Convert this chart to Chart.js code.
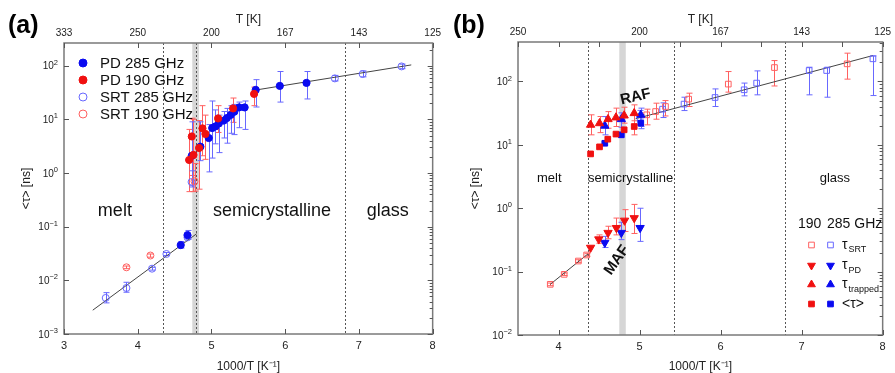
<!DOCTYPE html>
<html>
<head>
<meta charset="utf-8">
<script src="https://cdn.jsdelivr.net/npm/chart.js@4.4.0/dist/chart.umd.min.js"></script>
<style>
  body { margin: 0; background: #fff; }
  #wrap { position: relative; width: 895px; height: 373px; }
  canvas { position: absolute; top: 0; }
  #ca { left: 0; }
  #cb { left: 445px; }
</style>
</head>
<body>
<div id="wrap">
  <canvas id="ca" width="445" height="373"></canvas>
  <canvas id="cb" width="450" height="373"></canvas>
</div>
<script>
const FONT = 'Liberation Sans, Arial, Helvetica, sans-serif';
const BLUE = '#0a0af0', RED = '#f01010';
const BLUE_L = '#6868ff', RED_L = '#ff6060';

// ---------- panel (a) ----------
const aTopVals = [3, 4, 5, 6, 7, 8];
const aTopLabels = ['333', '250', '200', '167', '143', '125'];
const aDashX = [4.34, 4.79, 6.81];
const aBand = [4.74, 4.83];

const aPd285X = [4.583, 4.675, 4.733, 4.85, 4.963, 5.01, 5.054, 5.10, 5.167, 5.21, 5.26, 5.31, 5.375, 5.45, 5.60, 5.927, 6.289];
const aPd285Y = [0.0454, 0.0697, 2.1, 3.1, 4.5, 6.9, 7.4, 8.4, 9.5, 10.6, 12.1, 13.9, 16.7, 16.7, 35.4, 42, 47.8];
const aPd285Lo = [0.040, 0.060, 0.55, 1.7, 1.05, 1.9, 3.5, 2.4, 4.5, 3.6, 5.5, 5.2, 7, 6.5, 17, 21, 24];
const aPd285Hi = [0.053, 0.085, 9, 9, 8, 22, 15, 12, 14, 16, 18, 19, 21, 22, 55, 78, 78];

const aPd190X = [4.697, 4.733, 4.756, 4.832, 4.878, 4.918, 5.09, 5.293, 5.578];
const aPd190Y = [1.75, 4.8, 2.17, 2.93, 6.8, 5.35, 10.4, 16, 29.8];
const aPd190Lo = [0.45, 0.9, 0.45, 0.5, 2.1, 1.8, 5.7, 8.8, 18];
const aPd190Hi = [6.5, 10.5, 10, 9.5, 18, 12, 18, 25, 40];

const aSrt285X = [3.566, 3.847, 4.194, 4.389, 4.675, 4.73, 6.673, 7.05, 7.578];
const aSrt285Y = [0.0047, 0.0072, 0.0165, 0.031, 0.063, 0.68, 58, 70, 97];
const aSrt285Lo = [0.0038, 0.006, 0.0155, 0.029, 0.058, 0.6, 52, 62, 88];
const aSrt285Hi = [0.0059, 0.0092, 0.0175, 0.033, 0.068, 1.1, 66, 80, 107];

const aSrt190X = [3.847, 4.172, 4.77];
const aSrt190Y = [0.0175, 0.029, 0.7];
const aSrt190Lo = [0.0165, 0.027, 0.46];
const aSrt190Hi = [0.0185, 0.031, 1.5];

const aFitLowX = [3.39, 4.80], aFitLowY = [0.00278, 0.074];
const aFitHighX = [5.61, 7.71], aFitHighY = [35.4, 103.5];

// ---------- panel (b) ----------
const bTopVals = [3.5, 4, 4.5, 5, 5.5, 6, 6.5, 7, 7.5, 8];
const bTopLabels = ['250', '', '', '200', '', '167', '', '143', '', '125'];
const bDashX = [4.363, 5.43, 6.80];
const bBand = [4.75, 4.83];

const bSrt190X = [3.898, 4.07, 4.245, 4.347, 5.088, 5.198, 5.32, 5.606, 6.095, 6.665, 7.562];
const bSrt190Y = [0.063, 0.0906, 0.147, 0.183, 29.8, 33.6, 40.3, 52.7, 91, 166, 190];
const bSrt190Lo = [0.06, 0.087, 0.14, 0.175, 20.7, 25.4, 28.6, 40.3, 68, 85, 109];
const bSrt190Hi = [0.066, 0.095, 0.154, 0.192, 36.6, 45.5, 50, 65.4, 143.6, 214, 280];

const bSrt285X = [5.007, 5.284, 5.549, 5.932, 6.291, 6.445, 7.093, 7.309, 7.88];
const bSrt285Y = [26.4, 36.6, 44, 55.9, 74, 94.4, 149, 149, 228];
const bSrt285Lo = [21, 27, 34.8, 40.3, 59.4, 61.6, 61.6, 56.5, 60];
const bSrt285Hi = [35, 46, 56.5, 76.4, 94.4, 147, 168, 168, 254];

const bPd190X = [4.396, 4.497, 4.611, 4.714, 4.815, 4.934];
const bPd190Y = [0.239, 0.324, 0.41, 0.49, 0.64, 0.70];
const bPd190Lo = [null, 0.28, 0.33, 0.38, 0.43, 0.4];
const bPd190Hi = [null, 0.38, 0.52, 0.7, 0.95, 1.15];

const bPd285X = [4.571, 4.775, 5.007];
const bPd285Y = [0.286, 0.41, 0.49];
const bPd285Lo = [0.24, 0.32, 0.30];
const bPd285Hi = [0.36, 0.6, 1.0];

const bTrap190X = [4.396, 4.506, 4.611, 4.709, 4.81, 4.934];
const bTrap190Y = [20.7, 21.9, 25.4, 27, 29, 31.6];
const bTrap190Lo = [14.4, 15.6, 18.3, 19.5, 22, 24];
const bTrap190Hi = [29.8, 28, 33.5, 38, 39.3, 42.8];

const bTrap285X = [4.571, 4.775, 5.015];
const bTrap285Y = [20, 25.4, 29.8];
const bTrap285Lo = [14.4, 19, 19.5];
const bTrap285Hi = [28, 32, 38];

const bMean190X = [4.396, 4.506, 4.608, 4.709, 4.81, 4.934];
const bMean190Y = [7.2, 9.3, 12.3, 14.8, 17.3, 19.5];
const bMean190Lo = [null, null, null, null, null, 14.4];
const bMean190Hi = [null, null, null, null, null, 29.8];

const bMean285X = [4.571, 4.775, 5.015];
const bMean285Y = [10.6, 14.4, 22];
const bMean285Lo = [null, null, 18];
const bMean285Hi = [null, null, 30];

const bFitLowX = [3.898, 4.363], bFitLowY = [0.063, 0.19];
const bFitHighX = [4.95, 7.88], bFitHighY = [25.8, 257];

const pts = (xs, ys) => xs.map((x, i) => ({ x, y: ys[i] }));

function series(xs, ys, lo, hi, o) {
    return Object.assign({
        data: pts(xs, ys), showLine: false, errLo: lo, errHi: hi,
        pointBorderWidth: 1, pointHoverRadius: 0
    }, o);
}
function fitLine(xs, ys) {
    return { data: pts(xs, ys), showLine: true, borderColor: '#444', borderWidth: 1, pointRadius: 0, pointHoverRadius: 0 };
}

function sup(ctx, x, y, base, exp, fb, fe, align) {
    // draws base + superscript, right aligned at x
    ctx.font = fe;
    const we = ctx.measureText(exp).width;
    ctx.font = fb;
    const wb = ctx.measureText(base).width;
    const x0 = align === 'right' ? x - we - wb : x;
    ctx.textAlign = 'left';
    ctx.textBaseline = 'middle';
    ctx.fillText(base, x0, y);
    ctx.font = fe;
    ctx.fillText(exp, x0 + wb, y - 4);
}

function makeExtras(cfg) {
    return {
        id: 'extras' + cfg.name,
        beforeDatasetsDraw(chart) {
            const { ctx, chartArea: a, scales: { x, y } } = chart;
            ctx.save();
            const b0 = x.getPixelForValue(cfg.band[0]), b1 = x.getPixelForValue(cfg.band[1]);
            ctx.fillStyle = '#d6d6d6';
            ctx.fillRect(b0, a.top, b1 - b0, a.bottom - a.top);
            ctx.strokeStyle = '#555';
            ctx.lineWidth = 1;
            ctx.setLineDash([2, 2]);
            cfg.dashes.forEach(v => {
                const px = Math.round(x.getPixelForValue(v)) + 0.5;
                ctx.beginPath(); ctx.moveTo(px, a.top); ctx.lineTo(px, a.bottom); ctx.stroke();
            });
            ctx.setLineDash([]);
            // error bars
            chart.data.datasets.forEach((ds, i) => {
                if (!ds.errLo) return;
                const meta = chart.getDatasetMeta(i);
                ctx.strokeStyle = ds.errColor;
                ctx.lineWidth = ds.errWidth || 1;
                meta.data.forEach((pt, j) => {
                    const lo = ds.errLo[j], hi = ds.errHi[j];
                    if (lo == null) return;
                    const px = Math.round(pt.x) + 0.5;
                    const yl = y.getPixelForValue(lo), yh = y.getPixelForValue(hi);
                    ctx.beginPath();
                    ctx.moveTo(px, yl); ctx.lineTo(px, yh);
                    ctx.moveTo(px - 3, yl); ctx.lineTo(px + 3, yl);
                    ctx.moveTo(px - 3, yh); ctx.lineTo(px + 3, yh);
                    ctx.stroke();
                });
            });
            ctx.restore();
        },
        afterDraw(chart) {
            const { ctx, chartArea: a, scales: { x, x2, y } } = chart;
            ctx.save();
            ctx.strokeStyle = '#7a7a7a';
            ctx.lineWidth = 1.5;
            ctx.strokeRect(a.left, a.top, a.right - a.left, a.bottom - a.top);

            ctx.strokeStyle = '#555';
            ctx.lineWidth = 1;
            ctx.beginPath();
            x.ticks.forEach(t => {
                const px = Math.round(x.getPixelForValue(t.value)) + 0.5;
                ctx.moveTo(px, a.bottom); ctx.lineTo(px, a.bottom - 5);
            });
            x2.ticks.forEach(t => {
                const px = Math.round(x2.getPixelForValue(t.value)) + 0.5;
                ctx.moveTo(px, a.top); ctx.lineTo(px, a.top + 5);
            });
            y.ticks.forEach(t => {
                const py = Math.round(y.getPixelForValue(t.value)) + 0.5;
                ctx.moveTo(a.left, py); ctx.lineTo(a.left + 5, py);
                ctx.moveTo(a.right, py); ctx.lineTo(a.right - 5, py);
            });
            for (let e = Math.floor(Math.log10(y.min)); e <= Math.ceil(Math.log10(y.max)); e++) {
                for (let k = 2; k <= 9; k++) {
                    const v = k * Math.pow(10, e);
                    if (v <= y.min || v >= y.max) continue;
                    const py = Math.round(y.getPixelForValue(v)) + 0.5;
                    ctx.moveTo(a.right, py); ctx.lineTo(a.right - 3, py);
                }
            }
            ctx.stroke();

            // y tick labels
            ctx.fillStyle = '#222';
            y.ticks.forEach(t => {
                const e = Math.round(Math.log10(t.value));
                sup(ctx, a.left - 6, y.getPixelForValue(t.value) + 1, '10', String(e).replace('-', '\u2212'),
                    '10px ' + FONT, '7.5px ' + FONT, 'right');
            });

            // texts
            ctx.fillStyle = '#111';
            cfg.texts.forEach(t => {
                ctx.save();
                ctx.translate(x.getPixelForValue(t.x), y.getPixelForValue(t.y));
                ctx.rotate((t.rot || 0) * Math.PI / 180);
                ctx.font = t.font;
                ctx.textAlign = 'center';
                ctx.textBaseline = 'middle';
                ctx.fillText(t.text, 0, 0);
                ctx.restore();
            });

            // panel label
            ctx.font = 'bold 25px ' + FONT;
            ctx.textAlign = 'left';
            ctx.textBaseline = 'alphabetic';
            ctx.fillStyle = '#000';
            ctx.fillText(cfg.label, 8, 33);

            cfg.legend(ctx, a);
            ctx.restore();
        }
    };
}

function marker(ctx, style, x, y, r, fill, stroke, rot) {
    ctx.fillStyle = fill;
    ctx.strokeStyle = stroke;
    ctx.lineWidth = 1;
    Chart.helpers.drawPoint(ctx, { pointStyle: style, radius: r, rotation: rot || 0, borderWidth: 1 }, x, y);
}

const legendA = (ctx, a) => {
    const items = [
        ['PD 285 GHz', BLUE, BLUE],
        ['PD 190 GHz', RED, RED],
        ['SRT 285 GHz', 'rgba(255,255,255,0)', BLUE_L],
        ['SRT 190 GHz', 'rgba(255,255,255,0)', RED_L]
    ];
    items.forEach((it, i) => {
        const yy = 63 + i * 17;
        marker(ctx, 'circle', 83, yy, 4, it[1], it[2]);
        ctx.fillStyle = '#111';
        ctx.font = '15px ' + FONT;
        ctx.textAlign = 'left';
        ctx.textBaseline = 'middle';
        ctx.fillText(it[0], 100, yy + 1);
    });
};

const legendB = (ctx, a) => {
    ctx.fillStyle = '#111';
    ctx.font = '14px ' + FONT;
    ctx.textAlign = 'left';
    ctx.textBaseline = 'middle';
    ctx.fillText('190', 353, 224);
    ctx.fillText('285 GHz', 382, 224);
    const none = 'rgba(255,255,255,0)';
    const rows = [
        ['rect', none, RED_L, none, BLUE_L, 0, '\u03c4', 'SRT', 245],
        ['triangle', RED, RED, BLUE, BLUE, 180, '\u03c4', 'PD', 265.5],
        ['triangle', RED, RED, BLUE, BLUE, 0, '\u03c4', 'trapped', 284.5],
        ['rect', RED, RED, BLUE, BLUE, 0, '<\u03c4>', '', 304]
    ];
    rows.forEach(r => {
        const rad = r[0] === 'rect' ? 4 : 4.5;
        marker(ctx, r[0], 366.5, r[8], rad, r[1], r[2], r[5]);
        marker(ctx, r[0], 385.5, r[8], rad, r[3], r[4], r[5]);
        ctx.fillStyle = '#111';
        ctx.font = '14px ' + FONT;
        ctx.textBaseline = 'middle';
        ctx.fillText(r[6], 397, r[8]);
        const w = ctx.measureText(r[6]).width;
        ctx.font = '9px ' + FONT;
        ctx.fillText(r[7], 397 + w + 1, r[8] + 5);
    });
};

function axesConfig(o) {
    const titleFont = { family: FONT, size: 12, lineHeight: 1 };
    return {
        x: {
            type: 'linear', position: 'bottom', min: o.xmin, max: 8,
            afterBuildTicks: s => { s.ticks = o.bottomVals.map(v => ({ value: v })); },
            ticks: { font: { family: FONT, size: 11 }, color: '#222', padding: 5, callback: v => String(v) },
            grid: { display: false, drawTicks: false }, border: { display: false },
            title: { display: true, text: '1000/T [K\u207b\u00b9]', font: titleFont, color: '#222', padding: { bottom: 0 } },
            afterFit: s => { s.height = o.bottomH; }
        },
        x2: {
            type: 'linear', position: 'top', min: o.xmin, max: 8,
            afterBuildTicks: s => { s.ticks = o.topVals.map(v => ({ value: v })); },
            ticks: { font: { family: FONT, size: 10 }, color: '#222', padding: 4, callback: (v, i) => o.topLabels[i] },
            grid: { display: false, drawTicks: false }, border: { display: false },
            title: { display: true, text: 'T [K]', font: titleFont, color: '#222', padding: { top: 14 } },
            afterFit: s => { s.height = o.topH; }
        },
        y: {
            type: 'logarithmic', position: 'left', min: o.ymin, max: o.ymax,
            afterBuildTicks: s => { s.ticks = o.decades.map(v => ({ value: v })); },
            ticks: { display: false },
            grid: { display: false, drawTicks: false }, border: { display: false },
            title: { display: true, text: '<\u03c4> [ns]', font: titleFont, color: '#222', padding: { top: o.ytPad } },
            afterFit: s => { s.width = o.leftW; }
        }
    };
}

new Chart(document.getElementById('ca'), {
    type: 'scatter',
    data: {
        datasets: [
            series(aPd190X, aPd190Y, aPd190Lo, aPd190Hi, { pointStyle: 'circle', pointRadius: 3.6, pointBackgroundColor: RED, pointBorderColor: RED, errColor: RED_L }),
            series(aPd285X, aPd285Y, aPd285Lo, aPd285Hi, { pointStyle: 'circle', pointRadius: 3.6, pointBackgroundColor: BLUE, pointBorderColor: BLUE, errColor: BLUE_L }),
            series(aSrt190X, aSrt190Y, aSrt190Lo, aSrt190Hi, { pointStyle: 'circle', pointRadius: 3.5, pointBackgroundColor: 'rgba(255,255,255,0)', pointBorderColor: RED_L, errColor: RED_L }),
            series(aSrt285X, aSrt285Y, aSrt285Lo, aSrt285Hi, { pointStyle: 'circle', pointRadius: 3.5, pointBackgroundColor: 'rgba(255,255,255,0)', pointBorderColor: BLUE_L, errColor: BLUE_L }),
            fitLine(aFitLowX, aFitLowY),
            fitLine(aFitHighX, aFitHighY)
        ]
    },
    options: {
        responsive: false, animation: false, devicePixelRatio: 1,
        layout: { padding: { left: 0, right: 12, top: 0, bottom: 0 } },
        plugins: { legend: { display: false }, tooltip: { enabled: false } },
        scales: axesConfig({
            xmin: 3, bottomVals: [3, 4, 5, 6, 7, 8], topVals: aTopVals, topLabels: aTopLabels,
            ymin: 1e-3, ymax: 265, decades: [1e-3, 1e-2, 1e-1, 1, 10, 100],
            bottomH: 39, topH: 43, leftW: 64, ytPad: 21
        })
    },
    plugins: [makeExtras({
        name: 'A', band: aBand, dashes: aDashX, label: '(a)', legend: legendA,
        texts: [
            { text: 'melt', x: 3.69, y: 0.198, font: '18px ' + FONT },
            { text: 'semicrystalline', x: 5.82, y: 0.198, font: '18px ' + FONT },
            { text: 'glass', x: 7.39, y: 0.198, font: '18px ' + FONT }
        ]
    })]
});

new Chart(document.getElementById('cb'), {
    type: 'scatter',
    data: {
        datasets: [
            series(bMean190X, bMean190Y, bMean190Lo, bMean190Hi, { pointStyle: 'rect', pointRadius: 4, pointBackgroundColor: RED, pointBorderColor: RED, errColor: RED_L }),
            series(bMean285X, bMean285Y, bMean285Lo, bMean285Hi, { pointStyle: 'rect', pointRadius: 4, pointBackgroundColor: BLUE, pointBorderColor: BLUE, errColor: BLUE_L }),
            series(bTrap190X, bTrap190Y, bTrap190Lo, bTrap190Hi, { pointStyle: 'triangle', pointRadius: 4.8, pointBackgroundColor: RED, pointBorderColor: RED, errColor: RED_L }),
            series(bTrap285X, bTrap285Y, bTrap285Lo, bTrap285Hi, { pointStyle: 'triangle', pointRadius: 4.8, pointBackgroundColor: BLUE, pointBorderColor: BLUE, errColor: BLUE_L }),
            series(bPd190X, bPd190Y, bPd190Lo, bPd190Hi, { pointStyle: 'triangle', pointRotation: 180, pointRadius: 4.8, pointBackgroundColor: RED, pointBorderColor: RED, errColor: RED_L }),
            series(bPd285X, bPd285Y, bPd285Lo, bPd285Hi, { pointStyle: 'triangle', pointRotation: 180, pointRadius: 4.8, pointBackgroundColor: BLUE, pointBorderColor: BLUE, errColor: BLUE_L }),
            series(bSrt190X, bSrt190Y, bSrt190Lo, bSrt190Hi, { pointStyle: 'rect', pointRadius: 4, pointBackgroundColor: 'rgba(255,255,255,0)', pointBorderColor: RED_L, errColor: RED_L }),
            series(bSrt285X, bSrt285Y, bSrt285Lo, bSrt285Hi, { pointStyle: 'rect', pointRadius: 4, pointBackgroundColor: 'rgba(255,255,255,0)', pointBorderColor: BLUE_L, errColor: BLUE_L }),
            fitLine(bFitLowX, bFitLowY),
            fitLine(bFitHighX, bFitHighY)
        ]
    },
    options: {
        responsive: false, animation: false, devicePixelRatio: 1,
        layout: { padding: { left: 0, right: 8, top: 0, bottom: 0 } },
        plugins: { legend: { display: false }, tooltip: { enabled: false } },
        scales: axesConfig({
            xmin: 3.5, bottomVals: [4, 5, 6, 7, 8], topVals: bTopVals, topLabels: bTopLabels,
            ymin: 1e-2, ymax: 420, decades: [1e-2, 1e-1, 1, 10, 100],
            bottomH: 38, topH: 42, leftW: 73, ytPad: 25
        })
    },
    plugins: [makeExtras({
        name: 'B', band: bBand, dashes: bDashX, label: '(b)', legend: legendB,
        texts: [
            { text: 'melt', x: 3.886, y: 3.0, font: '13px ' + FONT },
            { text: 'semicrystalline', x: 4.889, y: 3.0, font: '13px ' + FONT },
            { text: 'glass', x: 7.41, y: 3.0, font: '13px ' + FONT },
            { text: 'RAF', x: 4.95, y: 57, font: 'bold 15px ' + FONT, rot: -13 },
            { text: 'MAF', x: 4.72, y: 0.152, font: 'bold 15px ' + FONT, rot: -55 }
        ]
    })]
});
</script>
</body>
</html>
